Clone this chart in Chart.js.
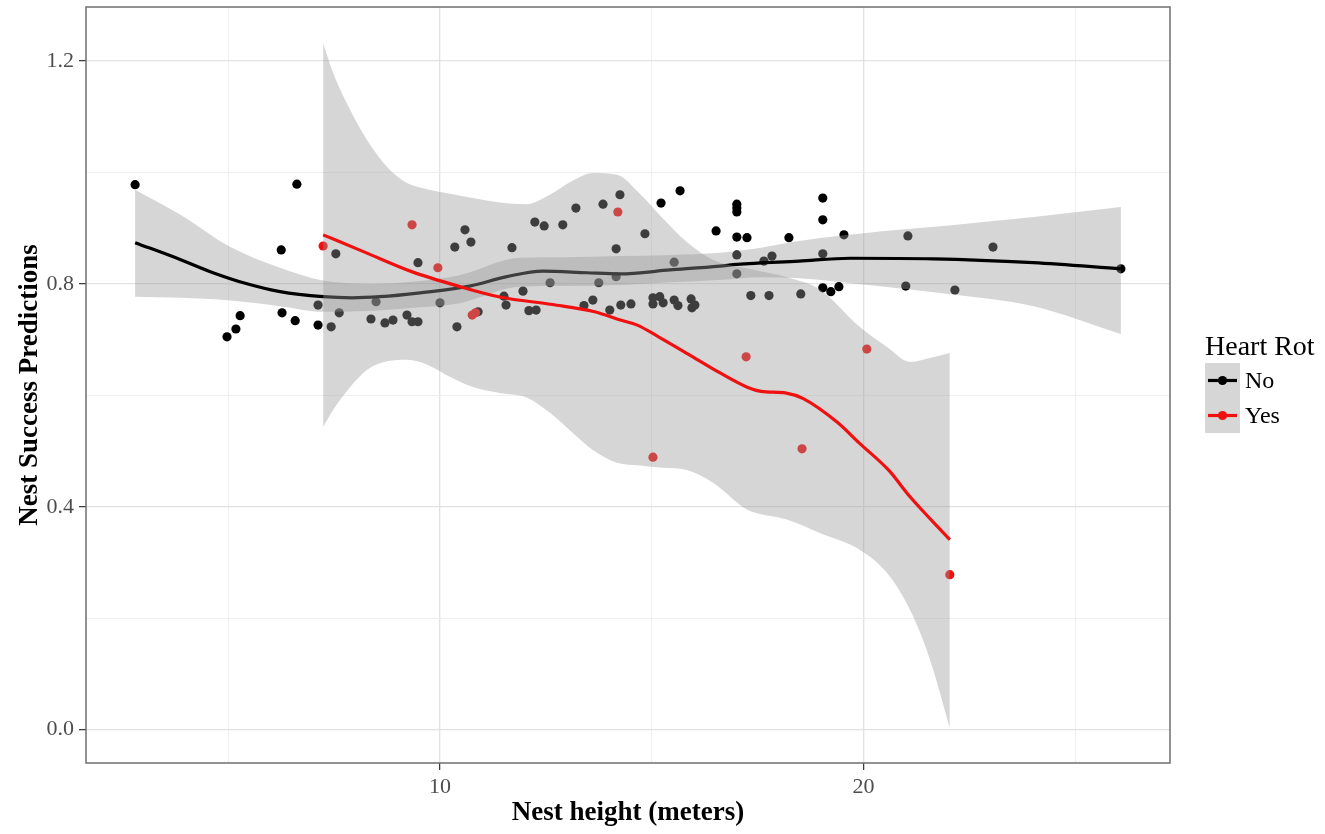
<!DOCTYPE html>
<html>
<head>
<meta charset="utf-8">
<script src="https://cdn.jsdelivr.net/npm/chart.js@4.4.1/dist/chart.umd.min.js"></script>
<style>
  html, body { margin: 0; padding: 0; background: #ffffff; }
  #wrap { width: 1325px; height: 834px; }
</style>
</head>
<body>
<div id="wrap"><canvas id="c" width="1325" height="834"></canvas></div>
<script>
// ---------------- data ----------------
const xAxisTitle = 'Nest height (meters)';
const yAxisTitle = 'Nest Success Predictions';
const legendTitle = 'Heart Rot';
const groupNames = ['No', 'Yes'];

const xMajorTicks = [10, 20];
const xMinorTicks = [5, 15, 25];
const yMajorTicks = [0.0, 0.4, 0.8, 1.2];
const yMinorTicks = [0.2, 0.6, 1.0];

// Heart Rot = No : observed points
const noX = [2.80, 6.62, 6.25, 7.54, 4.97, 5.18, 5.28, 6.27, 6.58, 7.12, 7.12, 7.43, 7.62, 8.37, 8.49, 8.70, 8.89, 9.22, 9.34, 9.48,
             9.48, 10.00, 10.40, 10.35, 10.59, 10.73, 10.90, 11.51, 11.56, 11.70, 11.96, 12.10, 12.27, 12.24, 12.46, 12.60, 12.90, 13.21, 13.40, 13.61,
             13.75, 13.85, 14.01, 14.16, 14.16, 14.25, 14.27, 14.51, 14.84, 15.03, 15.19, 15.03, 15.27, 15.22, 15.53, 15.53, 15.62, 15.67, 15.93, 16.02,
             15.95, 16.52, 17.01, 17.01, 17.01, 17.01, 17.25, 17.01, 17.01, 17.34, 17.65, 17.84, 17.77, 18.24, 18.52, 19.04, 19.04, 19.04, 19.04, 19.23,
             19.42, 19.54, 21.00, 21.05, 22.16, 23.06, 26.08];
const noY = [0.978, 0.979, 0.861, 0.854, 0.705, 0.719, 0.743, 0.748, 0.734, 0.726, 0.762, 0.723, 0.748, 0.737, 0.768, 0.730, 0.735, 0.744, 0.732, 0.732,
             0.838, 0.766, 0.723, 0.866, 0.897, 0.875, 0.750, 0.778, 0.762, 0.865, 0.787, 0.752, 0.753, 0.911, 0.904, 0.802, 0.906, 0.936, 0.761, 0.771,
             0.802, 0.943, 0.753, 0.863, 0.813, 0.960, 0.762, 0.764, 0.890, 0.775, 0.777, 0.764, 0.766, 0.945, 0.839, 0.771, 0.761, 0.967, 0.773, 0.762,
             0.757, 0.895, 0.943, 0.936, 0.929, 0.884, 0.883, 0.852, 0.818, 0.779, 0.841, 0.850, 0.779, 0.883, 0.782, 0.954, 0.915, 0.854, 0.793, 0.786,
             0.795, 0.888, 0.796, 0.886, 0.789, 0.866, 0.827];

// Heart Rot = Yes : observed points
const yesX = [7.24, 9.34, 9.95, 10.76, 10.84, 14.20, 15.03, 17.23, 18.55, 20.08, 22.04];
const yesY = [0.868, 0.906, 0.829, 0.744, 0.748, 0.929, 0.489, 0.669, 0.504, 0.683, 0.278];

// Smoothed fit (No)
const noFitX = [2.80, 3.89, 4.64, 5.40, 6.22, 7.24, 7.92, 8.58, 9.53, 10.70, 11.58, 12.43, 13.47, 14.25, 15.43, 16.61, 17.01, 18.48, 19.69, 21.65, 24.01, 26.08];
const noFitY = [0.874, 0.843, 0.820, 0.801, 0.786, 0.777, 0.775, 0.777, 0.784, 0.796, 0.813, 0.823, 0.820, 0.818, 0.825, 0.832, 0.835, 0.841, 0.846, 0.845, 0.838, 0.827];
// Confidence band (No)
const noBandX = [2.80, 3.87, 5.05, 6.22, 7.24, 8.42, 9.53, 10.43, 11.89, 12.95, 14.25, 15.46, 16.61, 17.58, 18.48, 19.39, 20.50, 22.01, 24.02, 26.08];
const noUpper = [0.969, 0.924, 0.866, 0.829, 0.806, 0.800, 0.805, 0.815, 0.847, 0.848, 0.850, 0.852, 0.856, 0.865, 0.877, 0.886, 0.895, 0.905, 0.920, 0.938];
const noLower = [0.777, 0.775, 0.770, 0.760, 0.750, 0.752, 0.758, 0.765, 0.795, 0.796, 0.798, 0.803, 0.807, 0.812, 0.810, 0.804, 0.795, 0.782, 0.760, 0.710];

// Smoothed fit (Yes)
const yesFitX = [7.24, 8.22, 9.33, 10.43, 11.44, 12.65, 13.65, 14.26, 14.66, 15.16, 15.86, 16.57, 17.27, 17.58, 18.18, 18.58, 19.39, 19.89, 20.59, 21.10, 22.04];
const yesFitY = [0.888, 0.857, 0.822, 0.796, 0.776, 0.763, 0.750, 0.735, 0.726, 0.705, 0.674, 0.642, 0.614, 0.607, 0.604, 0.594, 0.551, 0.515, 0.466, 0.418, 0.341];
// Confidence band (Yes)
const yesBandX = [7.24, 7.48, 7.88, 8.28, 8.75, 9.22, 9.70, 10.24, 10.78, 11.41, 12.04, 12.59, 13.13, 13.61, 14.18, 14.72, 15.26, 15.83, 16.45, 17.25,
                  18.19, 18.97, 19.91, 20.55, 21.10, 21.57, 22.04];
const yesUpper = [1.232, 1.178, 1.112, 1.058, 1.010, 0.981, 0.970, 0.962, 0.954, 0.946, 0.943, 0.960, 0.985, 0.999, 0.996, 0.962, 0.918, 0.875, 0.843, 0.828,
                  0.812, 0.790, 0.723, 0.687, 0.660, 0.667, 0.676];
const yesLower = [0.543, 0.574, 0.615, 0.646, 0.661, 0.664, 0.655, 0.633, 0.615, 0.604, 0.596, 0.569, 0.533, 0.502, 0.479, 0.474, 0.470, 0.466, 0.443, 0.395,
                  0.377, 0.353, 0.323, 0.282, 0.215, 0.126, 0.003];

// ---------------- styling ----------------
const SERIF = "'Liberation Serif', 'Times New Roman', Times, serif";
const colNo = '#000000';
const colYes = '#f01010';
const bandFill = 'rgba(153,153,153,0.4)';

const pts = (xs, ys) => xs.map((x, i) => ({ x: x, y: ys[i] }));
const isIn = (v, arr) => arr.some(a => Math.abs(a - v) < 1e-6);

const lineDs = (label, xs, ys, color, order) => ({
  type: 'line', label: label, data: pts(xs, ys), borderColor: color, borderWidth: 3.2,
  pointRadius: 0, pointHoverRadius: 0, fill: false, cubicInterpolationMode: 'monotone', order: order
});
const bandUpperDs = (label, xs, ys, order) => ({
  type: 'line', label: label, data: pts(xs, ys), borderWidth: 0, borderColor: 'rgba(0,0,0,0)',
  backgroundColor: bandFill, pointRadius: 0, pointHoverRadius: 0, fill: '+1', cubicInterpolationMode: 'monotone', order: order
});
const bandLowerDs = (label, xs, ys, order) => ({
  type: 'line', label: label, data: pts(xs, ys), borderWidth: 0, borderColor: 'rgba(0,0,0,0)',
  pointRadius: 0, pointHoverRadius: 0, fill: false, cubicInterpolationMode: 'monotone', order: order
});

const datasets = [
  lineDs('Yes fit', yesFitX, yesFitY, colYes, 0),               // 0 top-most
  bandUpperDs('Yes band upper', yesBandX, yesUpper, 1),         // 1
  bandLowerDs('Yes band lower', yesBandX, yesLower, 2),         // 2
  lineDs('No fit', noFitX, noFitY, colNo, 3),                   // 3
  bandUpperDs('No band upper', noBandX, noUpper, 4),            // 4
  bandLowerDs('No band lower', noBandX, noLower, 5),            // 5
  { type: 'scatter', label: 'Yes', data: pts(yesX, yesY), backgroundColor: colYes, borderWidth: 0, pointRadius: 4.6, order: 6 },
  { type: 'scatter', label: 'No', data: pts(noX, noY), backgroundColor: colNo, borderWidth: 0, pointRadius: 4.6, order: 7 }
];

const panelBorder = {
  id: 'panelBorder',
  afterDatasetsDraw(chart) {
    const { ctx, chartArea: a } = chart;
    ctx.save();
    ctx.strokeStyle = '#6f6f6f';
    ctx.lineWidth = 1.5;
    ctx.strokeRect(a.left, a.top, a.right - a.left, a.bottom - a.top);
    ctx.restore();
  }
};

const ggLegend = {
  id: 'ggLegend',
  afterDraw(chart) {
    const ctx = chart.ctx;
    const x0 = 1205, top = 363, key = 35;
    ctx.save();
    ctx.fillStyle = '#000';
    ctx.textAlign = 'left';
    ctx.textBaseline = 'alphabetic';
    ctx.font = '28px ' + SERIF;
    ctx.fillText(legendTitle, x0, 355);
    const cols = [colNo, colYes];
    groupNames.forEach((name, i) => {
      const y0 = top + i * key;
      ctx.fillStyle = '#d6d6d6';
      ctx.fillRect(x0, y0, key, key);
      const cy = y0 + key / 2;
      ctx.strokeStyle = cols[i];
      ctx.lineWidth = 3.2;
      ctx.beginPath();
      ctx.moveTo(x0 + 3, cy);
      ctx.lineTo(x0 + key - 3, cy);
      ctx.stroke();
      ctx.fillStyle = cols[i];
      ctx.beginPath();
      ctx.arc(x0 + key / 2, cy, 4.6, 0, Math.PI * 2);
      ctx.fill();
      ctx.fillStyle = '#000';
      ctx.font = '24px ' + SERIF;
      ctx.textBaseline = 'middle';
      ctx.fillText(name, x0 + key + 5, cy + 1);
      ctx.textBaseline = 'alphabetic';
    });
    ctx.restore();
  }
};

new Chart(document.getElementById('c'), {
  type: 'scatter',
  data: { datasets: datasets },
  plugins: [panelBorder, ggLegend],
  options: {
    responsive: false,
    devicePixelRatio: 1,
    animation: false,
    events: [],
    layout: { padding: { left: 0, right: 155, top: 7, bottom: 0 } },
    plugins: { legend: { display: false }, tooltip: { enabled: false } },
    scales: {
      x: {
        type: 'linear', min: 1.64, max: 27.24,
        afterBuildTicks: (s) => { s.ticks = xMinorTicks.concat(xMajorTicks).sort((a, b) => a - b).map(v => ({ value: v })); },
        afterFit: (s) => { s.height = 71; s.paddingLeft = 0; s.paddingRight = 0; },
        ticks: {
          autoSkip: false, maxRotation: 0, padding: 4, color: '#4d4d4d',
          font: { family: SERIF, size: 22 },
          callback: (v) => isIn(v, xMajorTicks) ? String(v) : ''
        },
        grid: {
          drawOnChartArea: true, tickLength: 7, tickWidth: 1.2,
          color: (c) => isIn(c.tick.value, xMajorTicks) ? '#e2e2e2' : '#ededed',
          lineWidth: (c) => isIn(c.tick.value, xMajorTicks) ? 1.3 : 0.9,
          tickColor: (c) => isIn(c.tick.value, xMajorTicks) ? '#333333' : 'rgba(0,0,0,0)'
        },
        border: { display: false },
        title: { display: true, text: xAxisTitle, color: '#000', font: { family: SERIF, size: 27, weight: 'bold' }, padding: { top: 0, bottom: 5 } }
      },
      y: {
        type: 'linear', min: -0.06, max: 1.297,
        afterBuildTicks: (s) => { s.ticks = yMinorTicks.concat(yMajorTicks).sort((a, b) => a - b).map(v => ({ value: v })); },
        afterFit: (s) => { s.width = 86; s.paddingTop = 0; s.paddingBottom = 0; },
        ticks: {
          autoSkip: false, padding: 5, color: '#4d4d4d',
          font: { family: SERIF, size: 22 },
          callback: (v) => isIn(v, yMajorTicks) ? Number(v).toFixed(1) : ''
        },
        grid: {
          drawOnChartArea: true, tickLength: 7, tickWidth: 1.2,
          color: (c) => isIn(c.tick.value, yMajorTicks) ? '#e2e2e2' : '#ededed',
          lineWidth: (c) => isIn(c.tick.value, yMajorTicks) ? 1.3 : 0.9,
          tickColor: (c) => isIn(c.tick.value, yMajorTicks) ? '#333333' : 'rgba(0,0,0,0)'
        },
        border: { display: false },
        title: { display: true, text: yAxisTitle, color: '#000', font: { family: SERIF, size: 27, weight: 'bold' }, padding: { top: 14, bottom: 0 } }
      }
    }
  }
});
</script>
</body>
</html>
